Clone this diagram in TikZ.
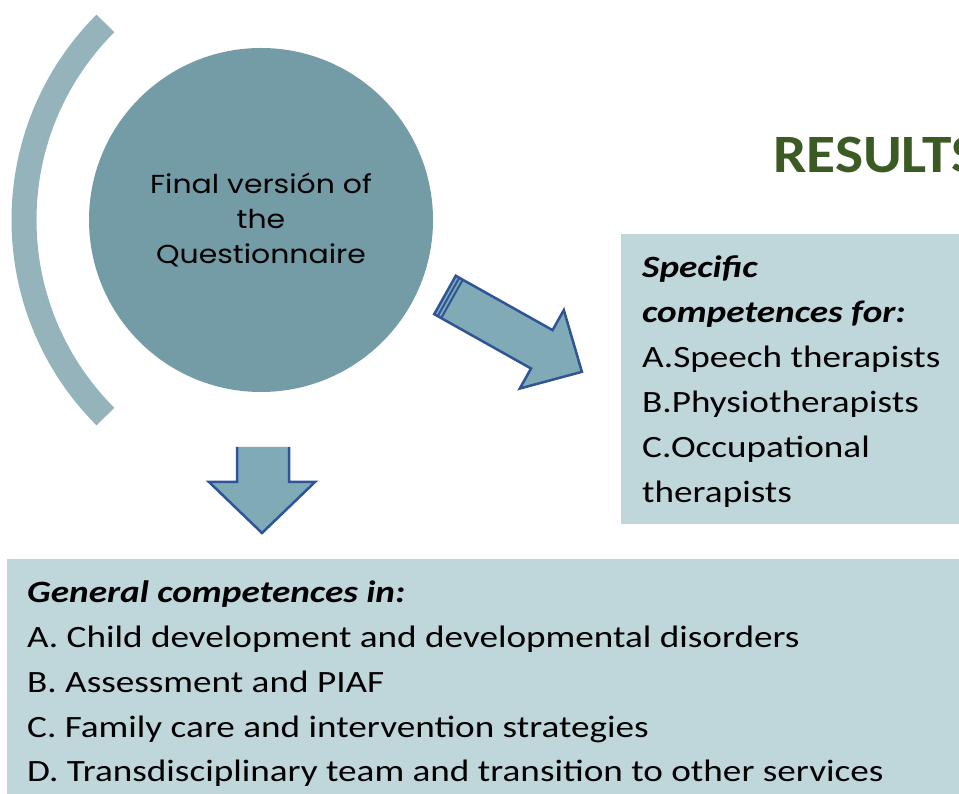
\documentclass[tikz,border=0pt]{standalone}
\usepackage{fontspec}
\setmainfont{Carlito}[FakeStretch=1.2]
\newfontfamily\titlefont{Carlito}[FakeStretch=1.1]
\newfontfamily\roundfont{Poppins}[FakeStretch=1.15]
\usetikzlibrary{calc,positioning}

\definecolor{circfill}{HTML}{739CA6}
\definecolor{arcfill}{HTML}{95B3BB}
\definecolor{boxfill}{HTML}{BFD6DA}
\definecolor{arrowfill}{HTML}{7FAAB6}
\definecolor{arrowline}{HTML}{2F5597}
\definecolor{titlegreen}{HTML}{3C5A24}

\begin{document}
\begin{tikzpicture}[
x=1pt,y=1pt,
core/.style={
	circle,
	fill=circfill,
	minimum size=344pt,
	inner sep=0pt,
	align=center,
	font=\roundfont\fontsize{26}{35}\selectfont
},
band/.style={
	draw=arcfill,
	line width=25pt
},
panel/.style={
	fill=boxfill,
	draw=none
},
line/.style={
	anchor=base west,
	inner sep=0pt,
	font=\fontsize{31}{44}\selectfont
},
blockarrow/.style={
	fill=arrowfill,
	draw=arrowline,
	line width=2.5pt,
	line join=miter
}
]
\useasboundingbox (0,0) rectangle (959,794);
\clip (0,0) rectangle (959,794);

% circle and the band on its left
\node[core] (quest) at (261,574) {Final versi\'on of\\the\\Questionnaire};
\coordinate (bandtop) at ($(quest.center)+(41,0)+(135:278)$);
\draw[band] (bandtop) arc[start angle=135,end angle=225,radius=278];

% title
\node[anchor=base west,inner sep=0pt,text=titlegreen,
	font=\titlefont\bfseries\fontsize{54}{60}\selectfont] (title) at (773,621) {RESULTS};

% boxes
\fill[panel] (621,560) rectangle (970,270);
\fill[panel] (7,235) rectangle (970,-5);

\foreach \y/\l in {516/\textbf{\textit{Specific}},471/\textbf{\textit{competences for:}},
	426/A.Speech therapists,381/B.Physiotherapists,336/C.Occupational,291/therapists}
\node[line] at (642,\y) {\l};

\foreach \y/\l in {191/\textbf{\textit{General competences in:}},
	146/A. Child development and developmental disorders,
	101/B. Assessment and PIAF,
	56/C. Family care and intervention strategies,
	12/D. Transdisciplinary team and transition to other services}
\node[line] at (27,\y) {\l};

% arrow down
\fill[arrowfill] (237,347) -- (237,312) -- (209,312) -- (262,261) -- (315,312) -- (289,312) -- (289,347) -- cycle;
\draw[blockarrow,fill=none] (237,347) -- (237,312) -- (209,312) -- (262,261) -- (315,312) -- (289,312) -- (289,347);

% arrow to the right box
\begin{scope}[shift={(445,499)},rotate=-29.3]
\draw[blockarrow] (0,22) -- (111,22) -- (111,45) -- (157,0) -- (111,-45) -- (111,-22) -- (0,-22) -- cycle;
\draw[arrowline,line width=2pt] (4,22) -- (4,-22);
\draw[arrowline,line width=2pt] (8,22) -- (8,-22);
\end{scope}
\end{tikzpicture}
\end{document}
